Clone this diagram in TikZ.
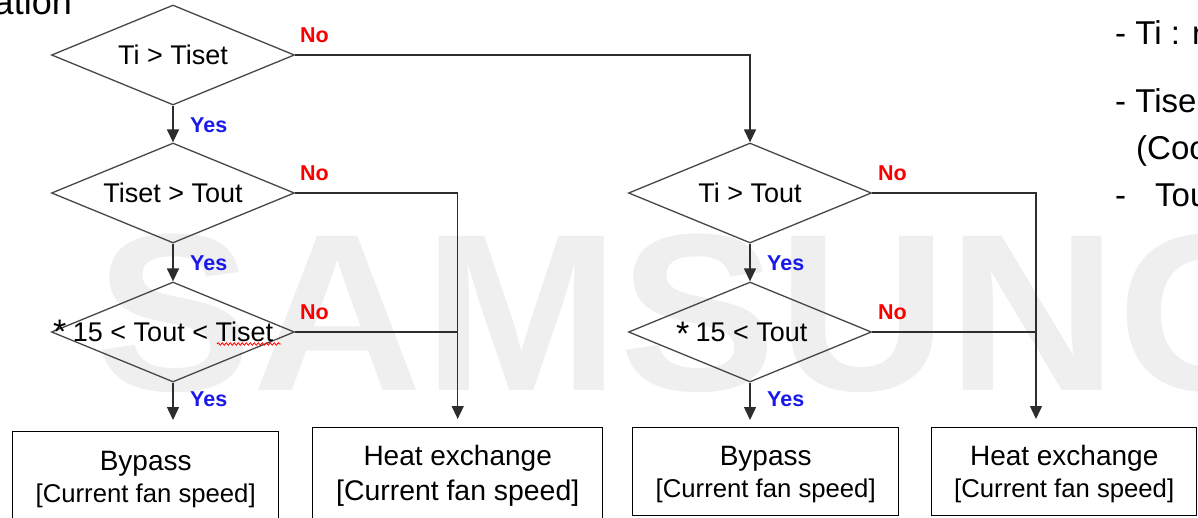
\documentclass[tikz,border=0pt]{standalone}
\usepackage{fontspec}
\setmainfont{Liberation Sans}
\usetikzlibrary{shapes.geometric,arrows.meta,decorations.pathmorphing}
\definecolor{wmc}{RGB}{239,239,239}
\definecolor{lnc}{RGB}{45,45,45}
\definecolor{dgc}{RGB}{70,70,70}
\definecolor{yesc}{RGB}{25,25,235}
\definecolor{noc}{RGB}{250,0,0}
\newcommand\fDia{\fontsize{27}{32}\selectfont}
\newcommand\fHead{\fontsize{28}{33}\selectfont}
\newcommand\fSub{\fontsize{25.7}{30}\selectfont}
\newcommand\fSubB{\fontsize{28.4}{33}\selectfont}
\newcommand\fLab{\fontsize{21.5}{25}\selectfont\bfseries}
\newcommand\fSide{\fontsize{33}{38}\selectfont}
\begin{document}
\begin{tikzpicture}[x=1pt,y=-1pt,
  dia/.style={diamond, draw=dgc, line width=1.3pt, minimum width=243pt, minimum height=100pt, inner sep=0pt, aspect=2.43},
  box/.style={draw=black, line width=1.4pt, inner sep=0pt, anchor=north west},
  txt/.style={inner sep=0pt, anchor=base},
  yes/.style={inner sep=0pt, anchor=base west, text=yesc, font=\fLab},
  no/.style={inner sep=0pt, anchor=base west, text=noc, font=\fLab},
  conn/.style={draw=lnc, line width=1.4pt},
  arr/.style={conn, -{Triangle[length=13pt,width=12pt]}},
  wmark/.style={inner sep=0pt, anchor=base west, text=wmc, font=\fontsize{236}{236}\selectfont\bfseries},
  side/.style={inner sep=0pt, anchor=base west, font=\fSide}
]
\useasboundingbox (0,0) rectangle (1198,517);
\clip (0,0) rectangle (1198,517);

% watermark
\node[wmark] (wm) at (95,390) {\scalebox{1}[0.95]{SAMSUNG}};

% partial texts
\node[inner sep=0pt, anchor=base east, font=\fontsize{36}{40}\selectfont] (ttl) at (72,14) {ation};
\node[side] (s1) at (1115,44) {- Ti : r};
\node[side] (s2) at (1115,112) {- Tise};
\node[side] (s3) at (1136,159) {(Coo};
\node[side] (s4) at (1115,206) {-\hspace{29pt}Tou};

% diamonds
\node[dia] (d1) at (173,55) {\makebox[0pt]{\fDia Ti > Tiset}};
\node[dia] (d2) at (173,193) {\makebox[0pt]{\fDia Tiset > Tout}};
\node[dia] (d3) at (173,332) {\makebox[0pt]{\fDia 15 < Tout < Tiset}};
\node[dia] (d4) at (750,193) {\makebox[0pt]{\fDia Ti > Tout}};
\node[dia] (d5) at (750,332) {\makebox[0pt]{\kern3pt\fDia 15 < Tout}};
\node[inner sep=0pt, anchor=base west, font=\fontsize{34}{34}\selectfont] (a3) at (53,343) {*};
\node[inner sep=0pt, anchor=base west, font=\fontsize{34}{34}\selectfont] (a5) at (676,345) {*};
\draw[red, line width=0.8pt, decorate, decoration={snake, amplitude=1.2pt, segment length=4pt}] (217,344) -- (281,344);

% boxes
\node[box, minimum width=266pt, minimum height=120pt] (b1) at (12,431) {};
\node[box, minimum width=290pt, minimum height=120pt] (b2) at (312,427) {};
\node[box, minimum width=266pt, minimum height=88pt] (b3) at (632,427) {};
\node[box, minimum width=265pt, minimum height=88pt] (b4) at (931,427) {};

\node[txt, font=\fHead] (b1a) at (b1.north |- 0,470) {Bypass};
\node[txt, font=\fSub] (b1b) at (b1.north |- 0,502) {[Current fan speed]};
\node[txt, font=\fHead] (b2a) at (b2.north |- 0,465) {Heat exchange};
\node[txt, font=\fSubB] (b2b) at (b2.north |- 0,500) {[Current fan speed]};
\node[txt, font=\fHead] (b3a) at (b3.north |- 0,465) {Bypass};
\node[txt, font=\fSub] (b3b) at (b3.north |- 0,497) {[Current fan speed]};
\node[txt, font=\fHead] (b4a) at (b4.north |- 0,465) {Heat exchange};
\node[txt, font=\fSub] (b4b) at (b4.north |- 0,497) {[Current fan speed]};

% connectors
\draw[arr] (d1.south) -- (d2.north);
\draw[arr] (d2.south) -- (d3.north);
\draw[arr, shorten >=11pt] (d3.south) -- (d3.south |- b1.north);
\draw[arr] (d1.east) -| (d4.north);
\draw[arr] (d4.south) -- (d5.north);
\draw[arr, shorten >=7pt] (d5.south) -- (d5.south |- b3.north);
\draw[arr, shorten >=8pt] (d2.east) -| (b2.north);
\draw[conn] (d3.east) -- (d3.east -| b2.north);
\coordinate (m4) at (1036,427);
\draw[arr, shorten >=8pt] (d4.east) -| (m4);
\draw[conn] (d5.east) -- (d5.east -| m4);

% labels
\node[no] (n1) at (300,42) {No};
\node[no] (n2) at (300,180) {No};
\node[no] (n3) at (300,319) {No};
\node[no] (n4) at (878,180) {No};
\node[no] (n5) at (878,319) {No};
\node[yes] (y1) at (190,132) {Yes};
\node[yes] (y2) at (190,270) {Yes};
\node[yes] (y3) at (190,406) {Yes};
\node[yes] (y4) at (767,270) {Yes};
\node[yes] (y5) at (767,406) {Yes};
\end{tikzpicture}
\end{document}
